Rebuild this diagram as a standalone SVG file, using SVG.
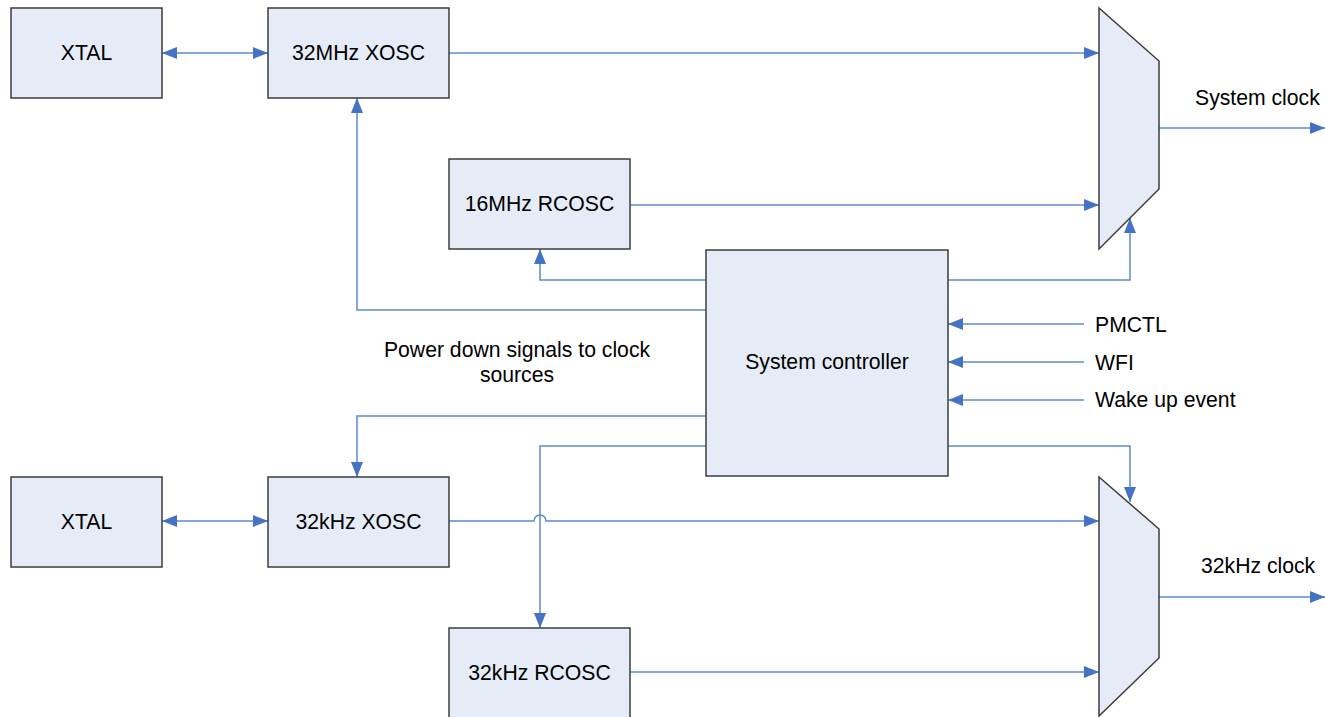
<svg xmlns="http://www.w3.org/2000/svg" width="1325" height="717" viewBox="0 0 1325 717">
<style>
.box{fill:#e6ecf7;stroke:#3c3c3c;stroke-width:1.5}
.t{font-family:"Liberation Sans",Arial,sans-serif;font-size:21.2px;fill:#000}
.c{text-anchor:middle}
.ln{fill:none;stroke:#5b8bd0;stroke-width:1.5}
.a{marker-end:url(#arr)}
</style>
<defs>
<marker id="arr" markerUnits="userSpaceOnUse" markerWidth="16" markerHeight="12" refX="15" refY="6" orient="auto">
<path d="M0,0 L15,6 L0,12 Z" fill="#4472c4"/>
</marker>
<marker id="arrs" markerUnits="userSpaceOnUse" markerWidth="16" markerHeight="12" refX="0" refY="6" orient="auto">
<path d="M15,0 L0,6 L15,12 Z" fill="#4472c4"/>
</marker>
</defs>
<rect width="1325" height="717" fill="#fff"/>
<g id="connectors">
<path class="ln" d="M162,53 H268" marker-start="url(#arrs)" marker-end="url(#arr)"/>
<path class="ln a" d="M449,53 H1099"/>
<path class="ln a" d="M630,205 H1099"/>
<path class="ln a" d="M706,310 H357 V98"/>
<path class="ln a" d="M706,280 H540 V249"/>
<path class="ln a" d="M948,280 H1130 V218"/>
<path class="ln a" d="M1159,128 H1325"/>
<path class="ln a" d="M1084,324 H948"/>
<path class="ln a" d="M1084,362 H948"/>
<path class="ln a" d="M1084,400 H948"/>
<path class="ln a" d="M706,416 H357 V477"/>
<path class="ln a" d="M706,446 H540 V628"/>
<path class="ln a" d="M948,446 H1130 V502"/>
<path class="ln" d="M162,521 H268" marker-start="url(#arrs)" marker-end="url(#arr)"/>
<path class="ln a" d="M449,521 H534 A6,6 0 0 1 546,521 H1099"/>
<path class="ln a" d="M630,672 H1099"/>
<path class="ln a" d="M1159,597 H1325"/>
</g>
<g id="xtal1"><rect class="box" x="11" y="8" width="151" height="90"/><text class="t c" x="86.5" y="60">XTAL</text></g>
<g id="xosc32m"><rect class="box" x="268" y="8" width="181" height="90"/><text class="t c" x="358.5" y="60">32MHz XOSC</text></g>
<g id="rcosc16m"><rect class="box" x="449" y="159" width="181" height="90"/><text class="t c" x="539.5" y="211">16MHz RCOSC</text></g>
<g id="sysctrl"><rect class="box" x="706" y="250" width="242" height="226"/><text class="t c" x="827" y="369">System controller</text></g>
<g id="xtal2"><rect class="box" x="11" y="477" width="151" height="90"/><text class="t c" x="86.5" y="529">XTAL</text></g>
<g id="xosc32k"><rect class="box" x="268" y="477" width="181" height="90"/><text class="t c" x="358.5" y="529">32kHz XOSC</text></g>
<g id="rcosc32k"><rect class="box" x="449" y="628" width="181" height="95"/><text class="t c" x="539.5" y="680">32kHz RCOSC</text></g>
<g id="mux1"><path class="box" d="M1099,8 L1159,61 L1159,189 L1099,249 Z"/></g>
<g id="mux2"><path class="box" d="M1099,477 L1159,529 L1159,658 L1099,716 Z"/></g>
<g id="labels">
<text class="t" x="1195" y="105">System clock</text>
<text class="t" x="1201" y="573">32kHz clock</text>
<text class="t" x="1095" y="332">PMCTL</text>
<text class="t" x="1095" y="370">WFI</text>
<text class="t" x="1095" y="407">Wake up event</text>
<text class="t c" x="517" y="357">Power down signals to clock</text>
<text class="t c" x="517" y="382">sources</text>
</g>
</svg>
